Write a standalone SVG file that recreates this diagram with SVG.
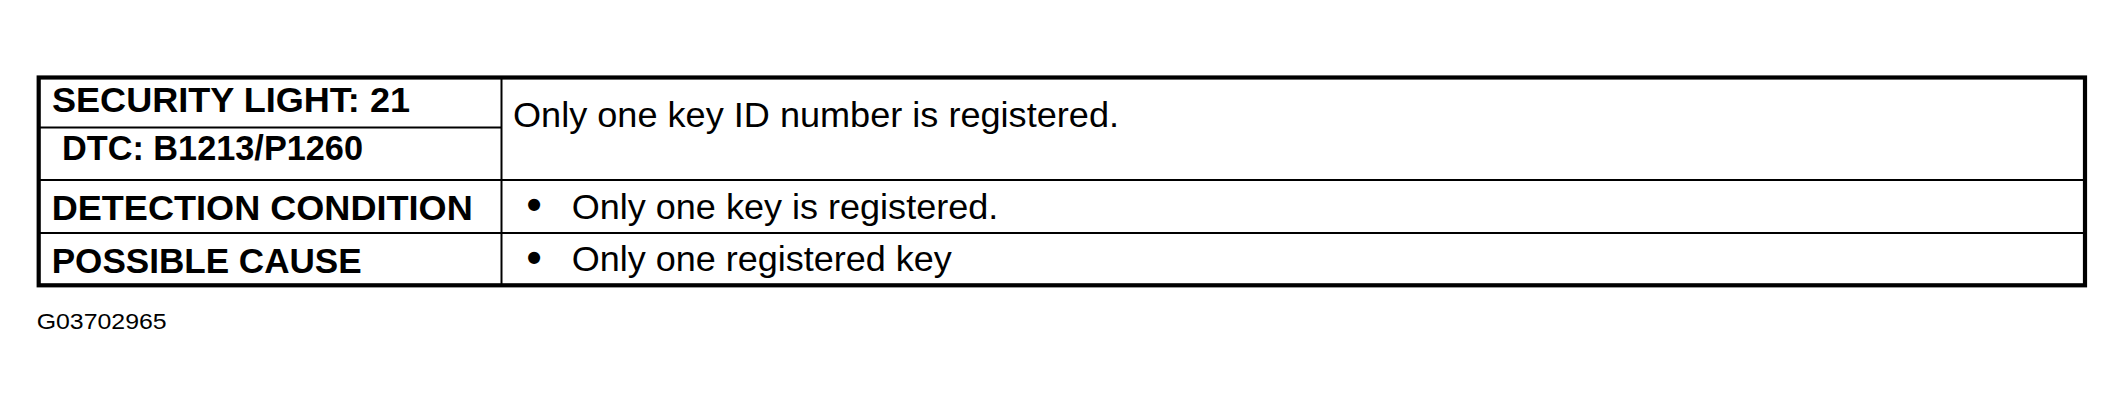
<svg xmlns="http://www.w3.org/2000/svg" width="2124" height="407" viewBox="0 0 2124 407">
<style>
.b{font-family:"Liberation Sans",Arial,sans-serif;font-weight:bold;font-size:35px;fill:#000}
.r{font-family:"Liberation Sans",Arial,sans-serif;font-size:35px;fill:#000}
.bul{font-family:"Liberation Sans",Arial,sans-serif;font-weight:bold;font-size:42px;fill:#000}
.thin{stroke:#000;stroke-width:2;fill:none}
</style>
<rect width="2124" height="407" fill="#fff"/>
<g id="lines">
<rect x="38.7" y="77.5" width="2046.3" height="207.8" fill="none" stroke="#000" stroke-width="4.2"/>
<line class="thin" x1="501.5" y1="77.5" x2="501.5" y2="285.3"/>
<line class="thin" x1="38.7" y1="127.5" x2="501.5" y2="127.5"/>
<line class="thin" x1="38.7" y1="180" x2="2085" y2="180"/>
<line class="thin" x1="38.7" y1="233" x2="2085" y2="233"/>
</g>
<g id="header">
<text class="b" x="52" y="111.5" textLength="358" lengthAdjust="spacingAndGlyphs">SECURITY LIGHT: 21</text>
<text class="b" x="62" y="159.5" textLength="301" lengthAdjust="spacingAndGlyphs">DTC: B1213/P1260</text>
<text class="r" x="513" y="127" textLength="606" lengthAdjust="spacingAndGlyphs">Only one key ID number is registered.</text>
</g>
<g id="detection">
<text class="b" x="51.7" y="219.5" textLength="421" lengthAdjust="spacingAndGlyphs">DETECTION CONDITION</text>
<text class="bul" x="534" y="219" text-anchor="middle">•</text>
<text class="r" x="571.7" y="218.5" textLength="426.6" lengthAdjust="spacingAndGlyphs">Only one key is registered.</text>
</g>
<g id="cause">
<text class="b" x="51.7" y="272.5" textLength="310" lengthAdjust="spacingAndGlyphs">POSSIBLE CAUSE</text>
<text class="bul" x="534" y="271.5" text-anchor="middle">•</text>
<text class="r" x="571.7" y="270.5" textLength="380" lengthAdjust="spacingAndGlyphs">Only one registered key</text>
</g>
<text x="36.7" y="329.3" font-family="Liberation Sans,Arial,sans-serif" font-size="22" textLength="130" lengthAdjust="spacingAndGlyphs">G03702965</text>
</svg>
